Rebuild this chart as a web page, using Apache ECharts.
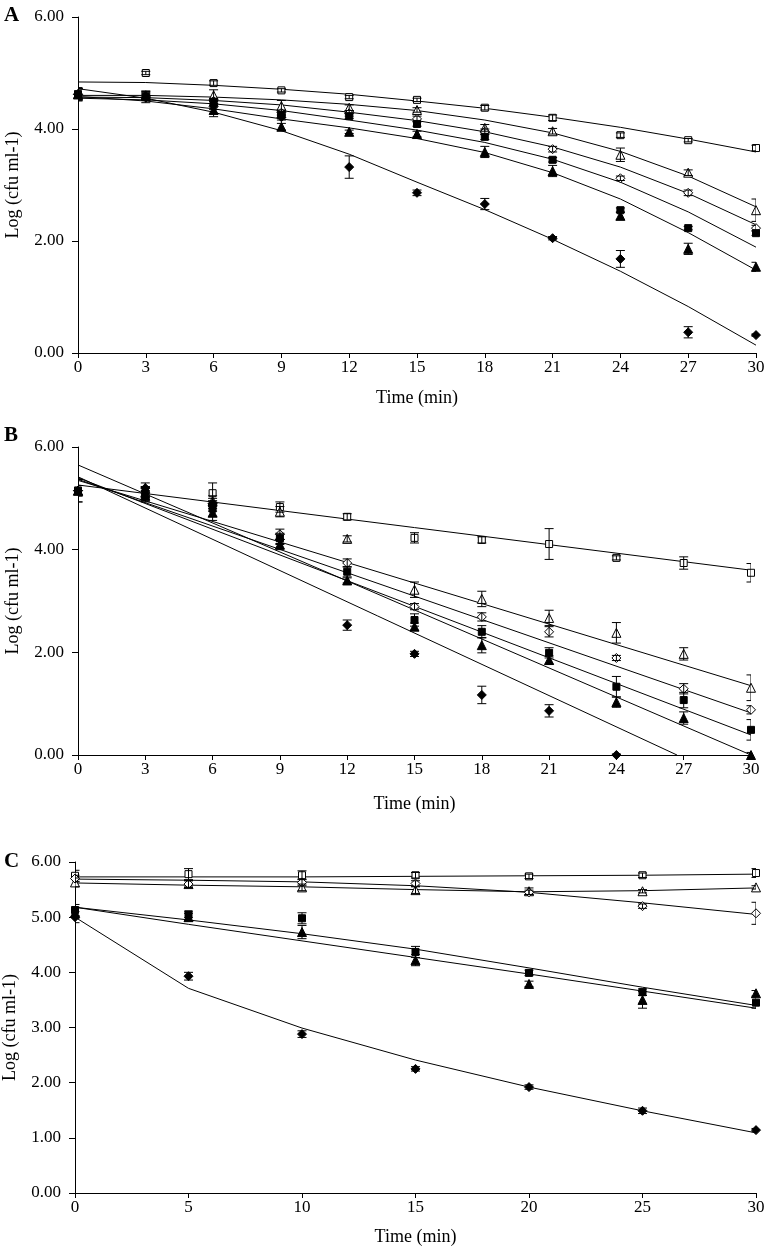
<!DOCTYPE html>
<html><head><meta charset="utf-8">
<script src="https://cdn.jsdelivr.net/npm/echarts@6/dist/echarts.min.js"></script>
<style>html,body{margin:0;padding:0;background:#fff}#c{width:767px;height:1248px}</style>
</head><body><div id="c"></div>
<script>
// ---------- DATA ----------
const timeAB = [0, 3, 6, 9, 12, 15, 18, 21, 24, 27, 30];
const timeC = [0, 5, 10, 15, 20, 25, 30];
const yTicksAB = [0, 2, 4, 6];
const yTicksC = [0, 1, 2, 3, 4, 5, 6];

// Panel A observed values (order: open square, open triangle, open diamond, filled square, filled triangle, filled diamond)
const A_sqOpen  = [4.62, 5.00, 4.82, 4.69, 4.57, 4.52, 4.38, 4.20, 3.89, 3.80, 3.66];
const A_triOpen = [4.62, 4.60, 4.60, 4.41, 4.38, 4.34, 4.02, 3.96, 3.54, 3.22, 2.55];
const A_diaOpen = [4.62, 4.58, 4.50, 4.29, 4.28, 4.18, 3.95, 3.64, 3.12, 2.86, 2.23];
const A_sqFill  = [4.62, 4.57, 4.48, 4.25, 4.23, 4.09, 3.86, 3.45, 2.55, 2.23, 2.14];
const A_triFill = [4.62, 4.60, 4.34, 4.04, 3.95, 3.91, 3.59, 3.25, 2.45, 1.86, 1.54];
const A_diaFill = [4.62, 4.56, 4.40, 4.21, 3.32, 2.86, 2.66, 2.05, 1.68, 0.37, 0.32];
const A_errSqOpen  = [0.10, 0.03, 0.04, 0.03, 0.03, 0.03, 0.04, 0.05, 0.04, 0.03, 0.05];
const A_errTriOpen = [0.10, 0.05, 0.10, 0.10, 0.05, 0.04, 0.06, 0.05, 0.12, 0.05, 0.20];
const A_errDiaOpen = [0.10, 0.05, 0.05, 0.05, 0.05, 0.05, 0.05, 0.05, 0.04, 0.05, 0.05];
const A_errSqFill  = [0.12, 0.10, 0.06, 0.05, 0.04, 0.04, 0.05, 0.04, 0.04, 0.03, 0.04];
const A_errTriFill = [0.10, 0.08, 0.12, 0.06, 0.03, 0.05, 0.10, 0.10, 0.07, 0.10, 0.08];
const A_errDiaFill = [0.10, 0.05, 0.05, 0.05, 0.20, 0.05, 0.10, 0.03, 0.15, 0.10, 0.02];
// Panel A fitted curves (values read at each time point)
const A_fitSqOpen  = [4.84, 4.83, 4.78, 4.71, 4.62, 4.50, 4.37, 4.21, 4.03, 3.82, 3.59];
const A_fitTriOpen = [4.60, 4.60, 4.57, 4.52, 4.44, 4.33, 4.16, 3.93, 3.60, 3.16, 2.61];
const A_fitDiaOpen = [4.57, 4.56, 4.51, 4.43, 4.30, 4.15, 3.95, 3.68, 3.32, 2.85, 2.29];
const A_fitSqFill  = [4.55, 4.52, 4.45, 4.33, 4.16, 3.98, 3.76, 3.46, 3.05, 2.52, 1.89];
const A_fitTriFill = [4.58, 4.50, 4.36, 4.18, 4.02, 3.83, 3.58, 3.22, 2.75, 2.15, 1.48];
const A_fitDiaFill = [4.72, 4.55, 4.30, 3.97, 3.55, 3.05, 2.56, 2.03, 1.46, 0.83, 0.14];

// Panel B observed values
const B_sqOpen  = [5.15, 5.10, 5.10, 4.83, 4.64, 4.23, 4.19, 4.11, 3.84, 3.74, 3.55];
const B_triOpen = [5.15, 5.12, 4.95, 4.74, 4.21, 3.22, 3.04, 2.67, 2.38, 1.97, 1.31];
const B_diaOpen = [5.15, 5.12, 4.85, 4.30, 3.74, 2.89, 2.69, 2.40, 1.89, 1.29, 0.88];
const B_sqFill  = [5.15, 5.08, 4.80, 4.22, 3.57, 2.63, 2.40, 1.99, 1.33, 1.07, 0.49];
const B_triFill = [5.15, 5.05, 4.72, 4.10, 3.40, 2.50, 2.14, 1.85, 1.03, 0.72, 0.00];
const B_diaFill = [5.15, 5.20, 4.90, 4.20, 2.53, 1.97, 1.17, 0.86, 0.00, null, null];
const B_errSqOpen  = [0.22, 0.10, 0.20, 0.10, 0.06, 0.10, 0.06, 0.30, 0.04, 0.12, 0.18];
const B_errTriOpen = [0.10, 0.10, 0.10, 0.10, 0.06, 0.15, 0.15, 0.15, 0.20, 0.12, 0.25];
const B_errDiaOpen = [0.10, 0.10, 0.10, 0.10, 0.08, 0.06, 0.08, 0.10, 0.05, 0.10, 0.08];
const B_errSqFill  = [0.22, 0.15, 0.15, 0.10, 0.10, 0.12, 0.12, 0.10, 0.20, 0.15, 0.20];
const B_errTriFill = [0.10, 0.10, 0.15, 0.10, 0.05, 0.07, 0.15, 0.08, 0.10, 0.12, 0.05];
const B_errDiaFill = [0.10, 0.10, 0.10, 0.10, 0.10, 0.05, 0.17, 0.12, 0.02, 0, 0];
// Panel B fitted straight lines: start value (t=0), end time, end value
const B_fitStart = [5.26, 5.35, 5.37, 5.40, 5.65, 5.42];
const B_fitEndT  = [30, 30, 30, 30, 30, 26.7];
const B_fitEndV  = [3.60, 1.35, 0.82, 0.39, 0.00, 0.00];

// Panel C observed values
const C_sqOpen  = [5.75, 5.78, 5.76, 5.76, 5.74, 5.76, 5.80];
const C_triOpen = [5.63, 5.60, 5.54, 5.49, 5.47, 5.47, 5.54];
const C_diaOpen = [5.70, 5.60, 5.63, 5.61, 5.45, 5.20, 5.07];
const C_sqFill  = [5.13, 5.05, 4.98, 4.37, 3.99, 3.64, 3.45];
const C_triFill = [5.08, 5.00, 4.73, 4.22, 3.79, 3.50, 3.62];
const C_diaFill = [5.00, 3.93, 2.88, 2.25, 1.92, 1.49, 1.14];
const C_errSqOpen  = [0.10, 0.10, 0.08, 0.05, 0.04, 0.04, 0.08];
const C_errTriOpen = [0.08, 0.06, 0.06, 0.06, 0.06, 0.03, 0.03];
const C_errDiaOpen = [0.06, 0.06, 0.06, 0.05, 0.04, 0.04, 0.20];
const C_errSqFill  = [0.10, 0.06, 0.10, 0.10, 0.05, 0.06, 0.10];
const C_errTriFill = [0.10, 0.07, 0.12, 0.10, 0.05, 0.15, 0.05];
const C_errDiaFill = [0.10, 0.07, 0.06, 0.04, 0.04, 0.05, 0.03];
const C_fitSqOpen  = [5.73, 5.73, 5.73, 5.74, 5.75, 5.76, 5.78];
const C_fitTriOpen = [5.62, 5.58, 5.55, 5.50, 5.46, 5.48, 5.53];
const C_fitDiaOpen = [5.69, 5.67, 5.64, 5.57, 5.45, 5.26, 5.05];
const C_fitSqFill  = [5.18, 4.95, 4.70, 4.42, 4.08, 3.73, 3.40];
const C_fitTriFill = [5.18, 4.87, 4.57, 4.27, 3.97, 3.66, 3.35];
const C_fitDiaFill = [5.00, 3.71, 2.99, 2.41, 1.92, 1.49, 1.09];

// ---------- BUILD ----------
const FONT = '"Liberation Serif", "Times New Roman", serif';
const kinds = [
  {symbol: 'rect', size: 7, filled: false},
  {symbol: 'triangle', size: 9, filled: false},
  {symbol: 'diamond', size: 9, filled: false},
  {symbol: 'rect', size: 7, filled: true},
  {symbol: 'triangle', size: 9, filled: true},
  {symbol: 'diamond', size: 9, filled: true}
];

const panels = [
  {t: timeAB, vals: [A_sqOpen, A_triOpen, A_diaOpen, A_sqFill, A_triFill, A_diaFill],
   errs: [A_errSqOpen, A_errTriOpen, A_errDiaOpen, A_errSqFill, A_errTriFill, A_errDiaFill],
   fits: [A_fitSqOpen, A_fitTriOpen, A_fitDiaOpen, A_fitSqFill, A_fitTriFill, A_fitDiaFill].map(f => f.map((v, i) => [timeAB[i], v]))},
  {t: timeAB, vals: [B_sqOpen, B_triOpen, B_diaOpen, B_sqFill, B_triFill, B_diaFill],
   errs: [B_errSqOpen, B_errTriOpen, B_errDiaOpen, B_errSqFill, B_errTriFill, B_errDiaFill],
   fits: B_fitStart.map((s, i) => [[0, s], [B_fitEndT[i], B_fitEndV[i]]])},
  {t: timeC, vals: [C_sqOpen, C_triOpen, C_diaOpen, C_sqFill, C_triFill, C_diaFill],
   errs: [C_errSqOpen, C_errTriOpen, C_errDiaOpen, C_errSqFill, C_errTriFill, C_errDiaFill],
   fits: [C_fitSqOpen, C_fitTriOpen, C_fitDiaOpen, C_fitSqFill, C_fitTriFill, C_fitDiaFill].map(f => f.map((v, i) => [timeC[i], v]))}
];

const grids = [
  {left: 78, top: 17, width: 678, height: 336, outerBoundsMode: 'none', containLabel: false},
  {left: 78, top: 447, width: 673, height: 308, outerBoundsMode: 'none', containLabel: false},
  {left: 75, top: 862, width: 681, height: 331, outerBoundsMode: 'none', containLabel: false}
];
const xIntervals = [3, 3, 5];
const yIntervals = [2, 2, 1];
const xNameGaps = [36, 40, 35];

const axisLine = {show: true, lineStyle: {color: '#000', width: 1}};
const xAxes = grids.map((g, i) => ({
  type: 'value', gridIndex: i, min: 0, max: 30, interval: xIntervals[i],
  axisLine: axisLine, axisTick: {show: true, length: 5, lineStyle: {color: '#000'}},
  splitLine: {show: false},
  axisLabel: {color: '#000', fontFamily: FONT, fontSize: 17, margin: 6},
  name: 'Time (min)', nameLocation: 'middle', nameGap: xNameGaps[i],
  nameTextStyle: {color: '#000', fontFamily: FONT, fontSize: 18}
}));
const yAxes = grids.map((g, i) => ({
  type: 'value', gridIndex: i, min: 0, max: 6, interval: yIntervals[i],
  axisLine: axisLine, axisTick: {show: true, length: 6, lineStyle: {color: '#000'}},
  splitLine: {show: false},
  axisLabel: {color: '#000', fontFamily: FONT, fontSize: 17, margin: 14, formatter: v => v.toFixed(2)},
  name: 'Log (cfu ml-1)', nameLocation: 'middle', nameGap: 56,
  nameTextStyle: {color: '#000', fontFamily: FONT, fontSize: 18}
}));

function errRender(params, api) {
  const x = api.value(0), y = api.value(1), e = api.value(2);
  const top = api.coord([x, y + e]), bot = api.coord([x, y - e]);
  const w = 4.5;
  const st = {stroke: '#000', lineWidth: 1};
  return {type: 'group', children: [
    {type: 'line', shape: {x1: top[0], y1: top[1], x2: bot[0], y2: bot[1]}, style: st},
    {type: 'line', shape: {x1: top[0] - w, y1: top[1], x2: top[0] + w, y2: top[1]}, style: st},
    {type: 'line', shape: {x1: bot[0] - w, y1: bot[1], x2: bot[0] + w, y2: bot[1]}, style: st}
  ]};
}

const series = [];
panels.forEach((p, pi) => {
  p.fits.forEach((f) => {
    series.push({type: 'line', xAxisIndex: pi, yAxisIndex: pi, data: f, showSymbol: false,
      symbol: 'none', lineStyle: {color: '#000', width: 1}, z: 2, silent: true, animation: false});
  });
  p.vals.forEach((vals, si) => {
    const k = kinds[si];
    series.push({type: 'scatter', xAxisIndex: pi, yAxisIndex: pi,
      data: vals.map((v, i) => v == null ? null : [p.t[i], v]).filter(d => d),
      symbol: k.symbol, symbolSize: k.size,
      itemStyle: {color: k.filled ? '#000' : '#fff', borderColor: '#000', borderWidth: 1, opacity: 1},
      z: 3, animation: false});
  });
  const errData = [];
  p.vals.forEach((vals, si) => vals.forEach((v, i) => {
    if (v != null && p.errs[si][i] > 0) errData.push([p.t[i], v, p.errs[si][i]]);
  }));
  series.push({type: 'custom', xAxisIndex: pi, yAxisIndex: pi, renderItem: errRender,
    data: errData, z: 4, clip: true, animation: false, encode: {x: 0, y: 1}});
});

const chart = echarts.init(document.getElementById('c'), null, {renderer: 'canvas'});
chart.setOption({
  backgroundColor: '#fff',
  animation: false,
  grid: grids,
  xAxis: xAxes,
  yAxis: yAxes,
  series: series,
  graphic: [
    {type: 'text', left: 4, top: 5, style: {text: 'A', font: 'bold 21px ' + FONT, fill: '#000'}},
    {type: 'text', left: 4, top: 425, style: {text: 'B', font: 'bold 21px ' + FONT, fill: '#000'}},
    {type: 'text', left: 4, top: 851, style: {text: 'C', font: 'bold 21px ' + FONT, fill: '#000'}}
  ]
});
</script></body></html>
